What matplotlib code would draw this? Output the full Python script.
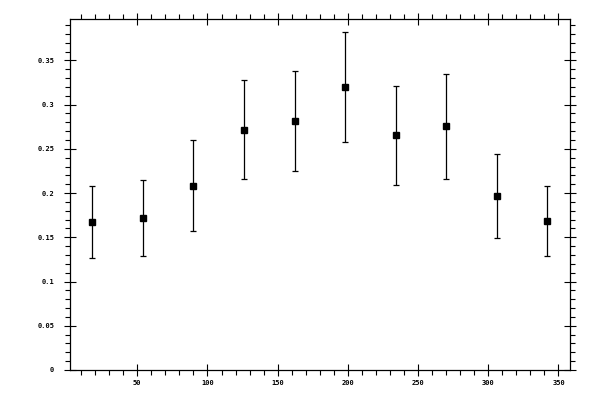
import numpy as np
import matplotlib
matplotlib.use('Agg')
import matplotlib.pyplot as plt
from matplotlib.ticker import MultipleLocator, FuncFormatter

# values
angle = [18, 54, 90, 126, 162, 198, 234, 270, 306, 342]
value = [0.167, 0.1716, 0.208, 0.2716, 0.2818, 0.3205, 0.2659, 0.2761, 0.1966, 0.1682]
upper = [0.208, 0.2148, 0.2598, 0.328, 0.3375, 0.3825, 0.3216, 0.3352, 0.2443, 0.208]
lower = [0.1268, 0.1284, 0.1568, 0.216, 0.225, 0.258, 0.2094, 0.2159, 0.1489, 0.1284]

y = np.array(value)
err = [y - np.array(lower), np.array(upper) - y]

fig = plt.figure(figsize=(6, 4), dpi=100)
ax = fig.add_axes([0.116, 0.075, 0.834, 0.877])

ax.errorbar(angle, value, yerr=err, fmt='s', color='black', ecolor='black',
            markersize=4.5, elinewidth=0.9, capsize=2, capthick=0.9)

ax.set_xlim(1.8, 358.2)
ax.set_ylim(0, 0.3966)

ax.xaxis.set_major_locator(MultipleLocator(50))
ax.xaxis.set_minor_locator(MultipleLocator(10))
ax.yaxis.set_major_locator(MultipleLocator(0.05))
ax.yaxis.set_minor_locator(MultipleLocator(0.01))
ax.yaxis.set_major_formatter(FuncFormatter(lambda v, p: ('%.2f' % v).rstrip('0').rstrip('.') if v != 0 else '0'))

ax.tick_params(which='both', top=True, right=True, width=0.8, colors='black')
ax.tick_params(which='major', direction='inout', length=8)
ax.tick_params(which='minor', direction='out', length=3.5)
ax.tick_params(axis='x', which='major', pad=3.5)
ax.tick_params(axis='y', which='major', pad=7)

for lab in ax.get_xticklabels() + ax.get_yticklabels():
    lab.set_fontsize(5)
    lab.set_fontweight('bold')
    lab.set_family('DejaVu Sans Mono')

for s in ax.spines.values():
    s.set_linewidth(0.9)

fig.savefig('out.png', dpi=100)
